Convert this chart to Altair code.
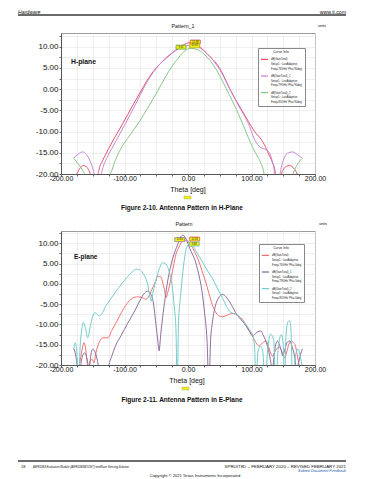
import altair as alt
import pandas as pd

FONT = "Liberation Sans"

# ---------------- H-plane (Figure 2-10) ----------------
h_names = [
    "dB(GainTotal)|Setup1 : LastAdaptive|Freq='76GHz' Phi='90deg'",
    "dB(GainTotal)_1|Setup1 : LastAdaptive|Freq='79GHz' Phi='90deg'",
    "dB(GainTotal)_2|Setup1 : LastAdaptive|Freq='81GHz' Phi='90deg'",
]
h_colors = ["#e8506a", "#c58ad8", "#86c886"]

h_red_theta = [-180, -175, -170, -165, -160, -156, -152, -148, -145.5, -143, -140, -135, -130, -125, -115, -105,
               -95, -85, -75, -65, -55, -45, -35, -25, -15, -5, 0, 5, 15, 25, 35, 45, 55, 65, 75, 85, 95, 105,
               115, 120, 127, 133, 137, 141, 145, 150, 155, 160, 165, 170, 175, 180]
h_red_db = [-22.0, -20.0, -18.6, -18.0, -18.3, -19.2, -20.8, -23.0, -27.0, -21.5, -18.9, -17.0, -15.5, -14.0,
            -11.3, -8.7, -6.0, -3.3, -0.7, 1.9, 4.1, 5.8, 7.2, 8.5, 9.7, 10.6, 10.9, 11.0, 10.4, 9.1, 7.6, 6.0,
            3.5, 0.3, -2.5, -5.0, -7.6, -10.0, -11.8, -13.0, -15.3, -17.3, -19.2, -27.0, -21.5, -19.0, -18.2,
            -18.0, -18.4, -19.4, -20.8, -22.0]

h_pur_theta = [-180, -173, -166, -160, -154, -149, -145, -141.5, -138, -134, -128, -120, -110, -100, -90, -80,
               -70, -60, -50, -40, -30, -20, -10, 0, 5, 10, 20, 30, 40, 50, 60, 70, 80, 90, 97, 102, 108, 115,
               122, 128, 132, 136, 140, 144, 148, 152, 158, 165, 172, 180]
h_pur_db = [-16.3, -15.3, -14.8, -15.4, -17.0, -19.2, -22.0, -27.0, -21.5, -18.5, -16.3, -14.0, -11.3, -8.5,
            -5.7, -2.8, 0.2, 2.8, 4.9, 6.6, 8.0, 9.0, 9.9, 10.3, 10.4, 10.3, 9.6, 8.3, 6.7, 4.6, 1.8, -1.2, -4.0,
            -6.6, -8.8, -10.9, -12.7, -13.8, -14.2, -14.9, -16.6, -19.5, -27.0, -21.0, -17.8, -16.0, -15.0,
            -14.8, -15.4, -16.3]

h_grn_theta = [-180, -172, -165, -160, -155, -140, -128, -124, -120, -115, -105, -95, -85, -75, -65, -55, -45,
               -35, -25, -15, -5, 0, 5, 15, 25, 35, 45, 55, 65, 75, 85, 95, 102, 110, 115, 118, 121, 125, 150,
               160, 163, 166, 172, 180]
h_grn_db = [-16.3, -17.8, -19.4, -21.0, -26.0, -30.0, -26.0, -21.0, -19.2, -17.0, -13.8, -11.6, -9.5, -7.3,
            -4.8, -2.3, 0.3, 3.0, 5.4, 7.4, 9.0, 9.5, 9.6, 9.3, 8.3, 6.7, 4.5, 1.7, -1.3, -4.4, -7.8, -11.4,
            -13.8, -16.0, -17.5, -18.8, -21.0, -27.0, -30.0, -25.0, -21.0, -19.7, -17.8, -16.3]

h_mk_theta = [11.5, 10.5, -11.0]
h_mk_db = [11.1, 10.2, 9.9]
h_mk_label = ["10.98", "10.32", "9.61"]
h_mk_border = ["#d04040", "#b0a020", "#50a050"]

# ---------------- E-plane (Figure 2-11) ----------------
e_names = [
    "dB(GainTotal)|Setup1 : LastAdaptive|Freq='76GHz' Phi='0deg'",
    "dB(GainTotal)_1|Setup1 : LastAdaptive|Freq='79GHz' Phi='0deg'",
    "dB(GainTotal)_2|Setup1 : LastAdaptive|Freq='81GHz' Phi='0deg'",
]
e_colors = ["#f07272", "#8e6e9e", "#74cccc"]

e_red_theta = [-180, -175, -170, -166, -164, -161.5, -159, -157, -154, -151, -148, -145, -140, -134, -126, -120,
               -112, -105, -98, -90, -84, -79, -72, -66, -60, -55.5, -51, -47.5, -43, -40, -37, -34.5, -32, -29,
               -26.5, -22, -19, -15, -11, -5, 0, 5, 10, 17, 22, 27.5, 33, 38, 43, 48.5, 54, 59, 65, 70, 75, 80,
               85.5, 92, 96, 101.5, 107, 112, 117, 122.5, 127, 130, 133, 136, 140, 144, 148, 152, 156, 159,
               162.5, 166, 169, 172, 175.5, 180]
e_red_db = [-24.0, -22.0, -19.0, -15.6, -14.5, -15.6, -19.0, -21.0, -19.0, -18.6, -19.5, -17.0, -14.5, -13.3,
            -13.3, -11.5, -9.2, -7.1, -5.3, -3.8, -3.3, -3.2, -3.4, -3.8, -2.5, -0.9, 0.6, 1.9, 1.8, 0.5, -1.5,
            -3.4, -2.2, -0.3, 1.5, 5.0, 7.3, 8.8, 10.1, 10.8, 10.5, 9.5, 8.0, 5.6, 3.2, 0.7, -2.4, -5.0, -6.8,
            -7.9, -8.1, -7.9, -7.5, -7.3, -7.5, -8.0, -8.7, -10.3, -11.4, -12.8, -14.5, -15.3, -14.6, -14.1,
            -15.5, -17.0, -17.8, -17.0, -15.9, -15.7, -16.7, -18.2, -16.5, -14.8, -14.1, -14.5, -15.2, -17.5,
            -20.5, -24.0]

e_pur_theta = [-180, -177, -174, -171.5, -168, -163, -159, -156, -153, -150, -147, -144, -141, -137, -130, -125,
               -120, -114, -105.5, -95, -84, -76, -68, -63.5, -59, -55.5, -53, -50.5, -47.5, -45.5, -43, -40,
               -36, -32, -28, -24, -20, -16, -12, -8, -4, 0, 3, 7, 11.5, 17, 22, 26, 30, 33, 35.5, 38, 43, 48,
               54, 60, 64.5, 70, 75, 80, 85.5, 92, 97, 101.5, 106, 110, 115, 118, 122.5, 127, 130, 133, 136,
               138, 141, 144, 147, 149, 152, 156, 160, 164, 168, 171, 174, 177, 180]
e_pur_db = [-16.0, -17.5, -21.0, -26.0, -19.0, -17.0, -18.5, -21.0, -17.5, -16.1, -16.6, -18.0, -20.5, -26.0,
            -30.0, -20.5, -17.8, -15.2, -12.8, -9.7, -6.7, -4.2, -2.2, -1.8, -2.5, -3.8, -6.5, -10.0, -14.0,
            -16.5, -12.5, -8.3, -3.5, 0.7, 3.8, 6.3, 8.2, 9.8, 11.5, 12.0, 11.3, 9.9, 8.7, 7.3, 5.6, 2.3, -1.8,
            -7.0, -14.1, -26.0, -14.0, -10.0, -5.5, -3.5, -2.6, -3.2, -4.2, -5.6, -7.1, -8.2, -9.2, -10.5,
            -11.8, -12.8, -12.3, -11.8, -11.6, -12.5, -14.1, -16.5, -19.0, -21.0, -17.0, -15.0, -14.1, -15.0,
            -16.5, -17.8, -16.5, -14.5, -14.1, -15.5, -18.0, -21.0, -19.5, -17.5, -16.0]

e_cyn_theta = [-180, -177.5, -175, -172.5, -170, -167, -165, -162, -158, -154, -150, -147, -143, -140, -136,
               -130, -124, -115, -105, -95, -88, -82, -78, -74, -68, -63.5, -60, -58, -55, -50, -45, -40, -35,
               -30, -25, -21.5, -19, -17, -15, -11, -7, -3, 0, 3, 6, 12, 22, 30, 38, 46, 54, 60, 65, 70, 75, 83,
               91, 97, 102, 105, 107, 110, 114, 118, 121, 125, 130, 135, 138, 142, 147, 150, 152, 154, 157, 160,
               162, 165, 169, 173, 177, 180]
e_cyn_db = [-16.2, -14.5, -17.0, -26.0, -16.0, -11.0, -9.5, -10.5, -13.3, -10.5, -8.0, -7.1, -7.5, -7.9, -7.5,
            -5.6, -4.2, -2.2, -0.1, 1.8, 2.9, 3.6, 3.6, 3.2, 1.8, -0.1, -3.0, -4.3, -2.0, 1.2, 3.8, 5.2, 4.9,
            3.2, -0.5, -5.9, -11.0, -26.0, -10.0, -1.8, 4.5, 8.5, 9.6, 9.9, 9.8, 8.2, 5.6, 3.4, 1.5, -1.0, -3.4,
            -5.3, -6.7, -7.2, -7.5, -8.6, -10.0, -11.3, -12.8, -16.0, -26.0, -17.0, -15.3, -17.0, -26.0, -17.0,
            -12.4, -14.0, -26.0, -16.0, -12.5, -15.0, -26.0, -14.0, -9.5, -9.0, -11.0, -26.0, -18.0, -16.0,
            -18.0, -20.5]

e_mk_theta = [-13.0, 10.5, 9.8]
e_mk_db = [10.9, 11.06, 9.83]
e_mk_label = ["12.05", "10.86", "9.88"]
e_mk_border = ["#8e6e9e", "#e05050", "#50b0b0"]

x_ticks = list(range(-200, 201, 25))
y_ticks = [-20 + 2.5 * i for i in range(14)]

BOX = "M-1,-0.4H1V0.4H-1Z"
YELLOW = "#eeee10"


def dummy():
    return pd.DataFrame({"k": [0]})


def label(text, x, y, size, align="left", weight="normal", style="normal", color="#111"):
    return alt.Chart(dummy()).mark_text(
        text=text, align=align, baseline="middle", fontSize=size, fontWeight=weight,
        fontStyle=style, font=FONT, color=color
    ).encode(x=alt.value(x), y=alt.value(y))


def hrule(x1, x2, y):
    return alt.Chart(dummy()).mark_rule(color="#3a3a3a", strokeWidth=1.3).encode(
        x=alt.value(x1), x2=alt.value(x2), y=alt.value(y))


def small_box(x, y):
    return alt.Chart(dummy()).mark_point(
        shape=BOX, size=49, filled=True, fill=YELLOW, stroke="#b0b040", strokeWidth=0.5, opacity=1
    ).encode(x=alt.value(x), y=alt.value(y))


def panel(names, colors, thetas, dbs, ymax, height, mk, legend_xy, decor):
    rows = []
    for n, th, db in zip(names, thetas, dbs):
        for t, d in zip(th, db):
            rows.append({"theta": t, "db": d, "curve": n})
    df = pd.DataFrame(rows)

    X = alt.X("theta:Q", scale=alt.Scale(domain=[-200, 200], nice=False, zero=False),
              axis=alt.Axis(values=x_ticks, title=None, tickSize=2, labelPadding=-2, labelFontSize=7,
                            labelFlush=False, labelOverlap=False,
                            labelExpr="datum.value % 100 === 0 ? replace(format(datum.value, '.2f'), '\u2212', '-') : ''"))
    Y = alt.Y("db:Q", scale=alt.Scale(domain=[-20, ymax], nice=False, zero=False),
              axis=alt.Axis(values=y_ticks, title=None, tickSize=2, labelPadding=1, labelFontSize=8,
                            labelOverlap=False, labelBound=False,
                            labelExpr="datum.value % 5 === 0 ? replace(format(datum.value, '.2f'), '\u2212', '-') : ''"))

    lines = alt.Chart(df).mark_line(clip=True, interpolate="monotone", strokeWidth=1).encode(
        x=X, y=Y,
        color=alt.Color("curve:N", sort=names, scale=alt.Scale(domain=names, range=colors),
                        legend=alt.Legend(
                            orient="none", legendX=legend_xy[0], legendY=legend_xy[1],
                            title="Curve Info", titleFontSize=3.4, titleFont=FONT, titleFontWeight="normal",
                            titleAnchor="middle", titleColor="#222", titlePadding=1.5,
                            labelFont=FONT, labelFontSize=2.7, labelColor="#1a1a1a",
                            labelExpr="split(datum.label, '|')", labelLimit=80, labelOffset=2,
                            symbolType="stroke", symbolSize=50, symbolStrokeWidth=1.3,
                            strokeColor="#888", fillColor="white", padding=2, rowPadding=0.6,
                            cornerRadius=0)),
    )
    mdf = pd.DataFrame({"theta": mk[0], "db": mk[1], "lab": mk[2], "border": mk[3]})
    mpts = alt.Chart(mdf).mark_point(shape=BOX, size=100, filled=True, fill=YELLOW, strokeWidth=0.7,
                                     opacity=1).encode(x=X, y=Y, stroke=alt.Stroke("border:N", scale=None))
    mtxt = alt.Chart(mdf).mark_text(fontSize=2.6, font=FONT, color="#333").encode(x=X, y=Y, text="lab:N")
    return alt.layer(lines, mpts, mtxt, *decor).properties(width=254, height=height)


top_decor = [
    alt.Chart(dummy()).mark_rect(fill="white", opacity=1).encode(
        x=alt.value(-52), x2=alt.value(-51), y=alt.value(-24), y2=alt.value(-23)),
    label("Hardware", -43, -21, 5.2, style="italic"),
    label("www.ti.com", 285, -21, 5.2, align="right"),
    hrule(-43, 285, -18),
    label("Pattern_1", 122, -7, 5.3, align="center"),
    label("units", 257, -7, 3.8),
    label("H-plane", 10, 29, 6.8, weight="bold"),
    label("Theta [deg]", 127, 156.5, 7, align="center"),
    small_box(126.5, 164.5),
    label("Figure 2-10. Antenna Pattern in H-Plane", 121, 175.3, 6.5, align="center", weight="bold"),
]

bottom_decor = [
    label("Pattern", 123, -6.7, 5.3, align="center"),
    label("units", 258, -7, 3.8),
    label("E-plane", 13, 25.7, 6.5, weight="bold"),
    label("Theta [deg]", 126, 149.5, 7, align="center"),
    small_box(124.5, 157.5),
    label("Figure 2-11. Antenna Pattern in E-Plane", 121, 169, 6.5, align="center", weight="bold"),
    hrule(-43, 285, 230),
    label("18", -40, 236, 4),
    label("AWR2243 Evaluation Module (AWR2243BOOST) mmWave Sensing Solution", -28, 236, 2.8, style="italic"),
    label("SPRUIT8D \u2013 FEBRUARY 2020 \u2013 REVISED FEBRUARY 2021", 285, 236, 4.4, align="right"),
    label("Submit Document Feedback", 285, 240.3, 3.8, align="right", style="italic", color="#1a5aa8"),
    label("Copyright \u00a9 2021 Texas Instruments Incorporated", 134, 245.3, 4.1, align="center"),
]

top = panel(h_names, h_colors, [h_red_theta, h_pur_theta, h_grn_theta], [h_red_db, h_pur_db, h_grn_db],
            13.23, 141, (h_mk_theta, h_mk_db, h_mk_label, h_mk_border), (197, 15), top_decor)
bottom = panel(e_names, e_colors, [e_red_theta, e_pur_theta, e_cyn_theta], [e_red_db, e_pur_db, e_cyn_db],
               13.03, 134, (e_mk_theta, e_mk_db, e_mk_label, e_mk_border), (198, 13), bottom_decor)

chart = alt.vconcat(top, bottom, spacing=57, bounds="flush").resolve_scale(
    color="independent", x="independent", y="independent"
).properties(
    padding=0, autosize=alt.AutoSizeParams(type="pad"), background="white"
).configure_view(
    stroke="#9a9a9a", strokeWidth=1
).configure_axis(
    gridColor="#e4e4e4", gridWidth=0.6, domainColor="#555", tickColor="#666",
    labelFont=FONT, labelColor="#111"
)

chart.save("out.html", embed_options={"renderer": "svg", "actions": False})
